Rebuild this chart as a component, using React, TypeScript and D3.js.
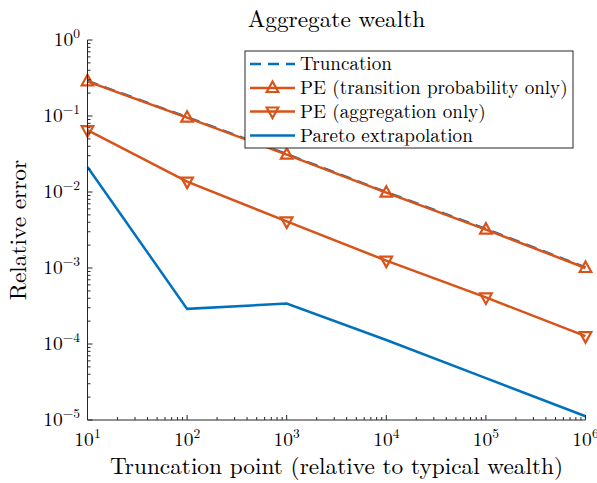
import React from "react";
import * as d3 from "d3";

const truncationPoints = [1e1, 1e2, 1e3, 1e4, 1e5, 1e6];
const truncation = [0.289, 0.0965, 0.0316, 0.00995, 0.00326, 0.00102];
const peTransition = [0.286, 0.095, 0.031, 0.0098, 0.0032, 0.001];
const peAggregation = [0.065, 0.0137, 0.0041, 0.00125, 0.00041, 0.000127];
const pareto = [0.0213, 0.00029, 0.00034, 0.000113, 0.0000355, 0.0000112];

const xExponents = [1, 2, 3, 4, 5, 6];
const yExponents = [0, -1, -2, -3, -4, -5];

const seriesNames = [
  "Truncation",
  "PE (transition probability only)",
  "PE (aggregation only)",
  "Pareto extrapolation",
];

const BLUE = "#0072BD";
const ORANGE = "#D95319";
const AXIS = "#262626";
const FONT = '"Latin Modern Roman", "Liberation Serif"';

const W = 597;
const H = 483;
const M = { left: 87.5, right: 585.5, top: 40, bottom: 420 };

export default function App() {
  const x = d3.scaleLog().domain([10, 1e6]).range([M.left, M.right]);
  const y = d3.scaleLog().domain([1e-5, 1]).range([M.bottom, M.top]);

  const line = d3
    .line<[number, number]>()
    .x((d) => x(d[0]))
    .y((d) => y(d[1]));

  const pts = (vals: number[]) =>
    truncationPoints.map((t, i) => [t, vals[i]] as [number, number]);

  const upTri = "M0,-6.5 L5.8,4 L-5.8,4 Z";
  const downTri = "M0,6.5 L5.8,-4 L-5.8,-4 Z";

  const xMinor: number[] = [];
  for (let e = 1; e < 6; e++) for (let k = 2; k <= 9; k++) xMinor.push(k * Math.pow(10, e));
  const yMinor: number[] = [];
  for (let e = -5; e < 0; e++) for (let k = 2; k <= 9; k++) yMinor.push(k * Math.pow(10, e));

  const fmtExp = (e: number) => (e < 0 ? "\u2212" + Math.abs(e) : String(e));

  const legendRows = [64, 88, 111.5, 135.5];
  const ts = { fontFamily: FONT };

  return (
    <svg width={W} height={H} style={{ position: "absolute", left: 0, top: 0, background: "#fff" }}>
      <rect x={0} y={0} width={W} height={H} fill="#fff" />
      <text x={(M.left + M.right) / 2} y={27} textAnchor="middle" fontSize={23.3} fill="#000" style={ts}>
        Aggregate wealth
      </text>

      <path d={line(pts(truncation)) || ""} fill="none" stroke={BLUE} strokeWidth={2.5} strokeDasharray="11,7" />
      <path d={line(pts(peTransition)) || ""} fill="none" stroke={ORANGE} strokeWidth={2.5} />
      {pts(peTransition).map((d, i) => (
        <path key={"ut" + i} d={upTri} transform={`translate(${x(d[0])},${y(d[1])})`} fill="none" stroke={ORANGE} strokeWidth={2.2} />
      ))}
      <path d={line(pts(peAggregation)) || ""} fill="none" stroke={ORANGE} strokeWidth={2.5} />
      {pts(peAggregation).map((d, i) => (
        <path key={"dt" + i} d={downTri} transform={`translate(${x(d[0])},${y(d[1])})`} fill="none" stroke={ORANGE} strokeWidth={2.2} />
      ))}
      <path d={line(pts(pareto)) || ""} fill="none" stroke={BLUE} strokeWidth={2.5} />

      <line x1={M.left} x2={M.left} y1={M.top} y2={M.bottom} stroke={AXIS} strokeWidth={1} />
      <line x1={M.left} x2={M.right} y1={M.bottom} y2={M.bottom} stroke={AXIS} strokeWidth={1} />
      {xExponents.map((e) => {
        const px = x(Math.pow(10, e));
        return (
          <g key={"xm" + e}>
            <line x1={px} x2={px} y1={M.bottom} y2={M.bottom - 5} stroke={AXIS} />
            <text x={px} y={446} textAnchor="middle" fontSize={19.5} fill="#000" style={ts}>
              10<tspan dy={-8} fontSize={13.5}>{fmtExp(e)}</tspan>
            </text>
          </g>
        );
      })}
      {xMinor.map((v, i) => (
        <line key={"xn" + i} x1={x(v)} x2={x(v)} y1={M.bottom} y2={M.bottom - 3} stroke={AXIS} />
      ))}
      {yExponents.map((e) => {
        const py = y(Math.pow(10, e));
        return (
          <g key={"ym" + e}>
            <line x1={M.left} x2={M.left + 5} y1={py} y2={py} stroke={AXIS} />
            <text x={80} y={py + 6} textAnchor="end" fontSize={19.5} fill="#000" style={ts}>
              10<tspan dy={-8} fontSize={13.5}>{fmtExp(e)}</tspan>
            </text>
          </g>
        );
      })}
      {yMinor.map((v, i) => (
        <line key={"yn" + i} x1={M.left} x2={M.left + 3} y1={y(v)} y2={y(v)} stroke={AXIS} />
      ))}

      <text x={(M.left + M.right) / 2} y={473.5} textAnchor="middle" fontSize={23.3} fill="#000" style={ts}>
        Truncation point (relative to typical wealth)
      </text>
      <text
        transform={`translate(26,${(M.top + M.bottom) / 2}) rotate(-90)`}
        textAnchor="middle"
        fontSize={23.3}
        fill="#000"
        style={ts}
      >
        Relative error
      </text>

      <rect x={245} y={51} width={328} height={97} fill="#fff" stroke={AXIS} strokeWidth={1} />
      {seriesNames.map((name, i) => {
        const ly = legendRows[i];
        return (
          <g key={"lg" + i}>
            <line
              x1={250}
              x2={295}
              y1={ly}
              y2={ly}
              stroke={i === 0 || i === 3 ? BLUE : ORANGE}
              strokeWidth={2.5}
              strokeDasharray={i === 0 ? "11,7" : undefined}
            />
            {i === 1 && <path d={upTri} transform={`translate(272.5,${ly})`} fill="none" stroke={ORANGE} strokeWidth={2.2} />}
            {i === 2 && <path d={downTri} transform={`translate(272.5,${ly})`} fill="none" stroke={ORANGE} strokeWidth={2.2} />}
            <text x={300} y={ly + 6} fontSize={19.1} fill="#000" style={ts}>
              {name}
            </text>
          </g>
        );
      })}
    </svg>
  );
}
